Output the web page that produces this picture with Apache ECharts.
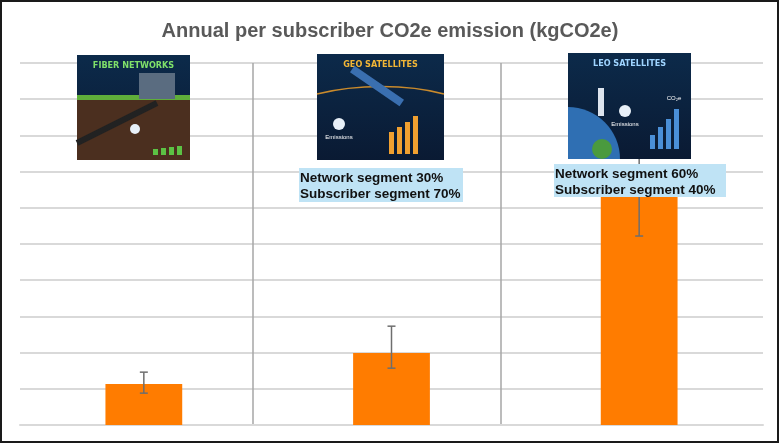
<!DOCTYPE html>
<html>
<head>
<meta charset="utf-8">
<script src="https://cdn.jsdelivr.net/npm/echarts@6/dist/echarts.min.js"></script>
<style>
  html, body { margin: 0; padding: 0; background: #fff; }
  #main { width: 780px; height: 444px; }
</style>
</head>
<body>
<div id="main"></div>
<script>
var categories = ['Fiber networks', 'GEO satellites', 'LEO satellites'];
var emission = [1.13, 1.99, 6.3];
var errLow = [0.88, 1.57, 5.22];
var errHigh = [1.46, 2.73, 7.38];
var panelTitles = ['FIBER NETWORKS', 'GEO SATELLITES', 'LEO SATELLITES'];
var geoNote = ['Network segment 30%', 'Subscriber segment 70%'];
var leoNote = ['Network segment 60%', 'Subscriber segment 40%'];

var chart = echarts.init(document.getElementById('main'));

// set z on a graphic element and all of its children
function lift(el, z) {
  el.z = z;
  if (el.children) el.children.forEach(function (c) { lift(c, z); });
  return el;
}

// picture panels drawn as simple placeholders
function panel(x, y, w, h, title, titleColor, extra) {
  var kids = [
    { type: 'rect', shape: { x: 0, y: 0, width: w, height: h },
      style: { fill: new echarts.graphic.LinearGradient(0, 0, 0, 1, [
        { offset: 0, color: '#0c2a4a' }, { offset: 1, color: '#0a1a33' }]) } },
    { type: 'text', style: { x: w / 2, y: 11, text: title, fill: titleColor,
      font: 'bold 9px "DejaVu Sans Condensed", sans-serif', align: 'center', verticalAlign: 'middle' } }
  ];
  return lift({ type: 'group', x: x, y: y, children: kids.concat(extra) }, 50);
}

function icon(x, y, color, n) {
  var kids = [];
  for (var i = 0; i < n.length; i++) {
    kids.push({ type: 'rect', shape: { x: x + i * 8, y: y - n[i], width: 5, height: n[i] }, style: { fill: color } });
  }
  return kids;
}

var fiberExtra = [
  { type: 'rect', shape: { x: 0, y: 44, width: 113, height: 61 }, style: { fill: '#4b2f1f' } },
  { type: 'rect', shape: { x: 0, y: 40, width: 113, height: 5 }, style: { fill: '#5fae3a' } },
  { type: 'rect', shape: { x: 62, y: 18, width: 36, height: 26 }, style: { fill: '#5a6c80' } },
  { type: 'line', shape: { x1: 0, y1: 88, x2: 80, y2: 48 }, style: { stroke: '#222', lineWidth: 6 } },
  { type: 'circle', shape: { cx: 58, cy: 74, r: 5 }, style: { fill: '#e8f0f8' } }
].concat(icon(76, 100, '#5cc244', [6, 7, 8, 9]));

var geoExtra = [
  { type: 'bezierCurve', shape: { x1: 0, y1: 40, cpx1: 40, cpy1: 30, x2: 127, y2: 40, cpx2: 90, cpy2: 30 },
    style: { stroke: '#c98a2c', lineWidth: 1.5, fill: 'none' } },
  { type: 'rect', shape: { x: 30, y: 28, width: 60, height: 8 }, rotation: -0.6, originX: 60, originY: 32,
    style: { fill: '#3a6fb0' } },
  { type: 'circle', shape: { cx: 22, cy: 70, r: 6 }, style: { fill: '#e8f0f8' } },
  { type: 'text', style: { x: 22, y: 80, text: 'Emissions', fill: '#fff', font: '6px sans-serif', align: 'center' } }
].concat(icon(72, 100, '#f0a030', [22, 27, 32, 38]));

var leoExtra = [
  { type: 'sector', shape: { cx: 0, cy: 106, r0: 0, r: 52, startAngle: -Math.PI / 2, endAngle: 0 },
    style: { fill: '#2f6fb3' } },
  { type: 'circle', shape: { cx: 34, cy: 96, r: 10 }, style: { fill: '#4a9a3e' } },
  { type: 'rect', shape: { x: 30, y: 35, width: 6, height: 28 }, style: { fill: '#dde4ee' } },
  { type: 'circle', shape: { cx: 57, cy: 58, r: 6 }, style: { fill: '#e8f0f8' } },
  { type: 'text', style: { x: 57, y: 68, text: 'Emissions', fill: '#fff', font: '6px sans-serif', align: 'center' } },
  { type: 'text', style: { x: 106, y: 42, text: 'CO₂e', fill: '#fff', font: '6px sans-serif', align: 'center' } }
].concat(icon(82, 96, '#4a8fd8', [14, 22, 30, 40]));

function note(x, y, w, h, lines) {
  return lift({
    type: 'group', x: x, y: y,
    children: [
      { type: 'rect', shape: { x: 0, y: 0, width: w, height: h }, style: { fill: '#bfe3f5' } },
      { type: 'text', style: { x: 1, y: 2, text: lines.join('\n'), fill: '#111', lineHeight: 16,
        font: 'bold 13.5px "Liberation Sans", Arial, sans-serif' } }
    ]
  }, 60);
}

var option = {
  animation: false,
  title: {
    text: 'Annual per subscriber CO2e emission (kgCO2e)',
    left: 'center',
    top: 16,
    textStyle: { color: '#595959', fontSize: 20, fontWeight: 'bold', fontFamily: 'Liberation Sans, Arial, sans-serif' }
  },
  grid: [
    { left: 20, right: 17, top: 63, bottom: 19 },
    { left: 3.5, right: 30, top: 63, bottom: 19 }
  ],
  xAxis: [
    {
      type: 'category',
      gridIndex: 0,
      data: categories,
      axisLabel: { show: false },
      axisTick: { show: false },
      axisLine: { show: true, lineStyle: { color: '#d9d9d9', width: 2 } }
    },
    {
      type: 'value',
      gridIndex: 1,
      min: 0,
      max: 3,
      interval: 1,
      axisLabel: { show: false },
      axisTick: { show: false },
      axisLine: { show: false },
      splitLine: { show: true, showMinLine: false, showMaxLine: false, lineStyle: { color: '#a6a6a6', width: 1.5 } }
    }
  ],
  yAxis: [
    {
      type: 'value',
      gridIndex: 0,
      min: 0,
      max: 10,
      interval: 1,
      axisLabel: { show: false },
      axisTick: { show: false },
      axisLine: { show: false },
      splitLine: { lineStyle: { color: '#d9d9d9', width: 2 } }
    },
    {
      type: 'value',
      gridIndex: 1,
      show: false,
      splitLine: { show: false }
    }
  ],
  series: [
    {
      name: 'CO2e',
      type: 'bar',
      barWidth: '31%',
      itemStyle: { color: '#ff7c00' },
      data: emission
    },
    {
      name: 'range',
      type: 'custom',
      z: 5,
      encode: { x: 0, y: [1, 2] },
      renderItem: function (params, api) {
        var lo = api.coord([api.value(0), api.value(1)]);
        var hi = api.coord([api.value(0), api.value(2)]);
        var st = { stroke: '#6e6e6e', lineWidth: 1.5 };
        return {
          type: 'group',
          children: [
            { type: 'line', shape: { x1: lo[0], y1: lo[1], x2: hi[0], y2: hi[1] }, style: st },
            { type: 'line', shape: { x1: lo[0] - 4, y1: lo[1], x2: lo[0] + 4, y2: lo[1] }, style: st },
            { type: 'line', shape: { x1: hi[0] - 4, y1: hi[1], x2: hi[0] + 4, y2: hi[1] }, style: st }
          ]
        };
      },
      data: categories.map(function (c, i) { return [i, errLow[i], errHigh[i]]; })
    }
  ],
  graphic: [
    panel(77, 55, 113, 105, panelTitles[0], '#7fe06a', fiberExtra),
    panel(317, 54, 127, 106, panelTitles[1], '#f2b636', geoExtra),
    panel(568, 53, 123, 106, panelTitles[2], '#9fd4ff', leoExtra),
    note(299, 168, 164, 34, geoNote),
    note(554, 164, 172, 33, leoNote),
    { type: 'rect', z: 100, shape: { x: 1, y: 1, width: 777, height: 441 },
      style: { fill: 'none', stroke: '#1a1a1a', lineWidth: 2 } }
  ]
};

option && chart.setOption(option);
</script>
</body>
</html>
